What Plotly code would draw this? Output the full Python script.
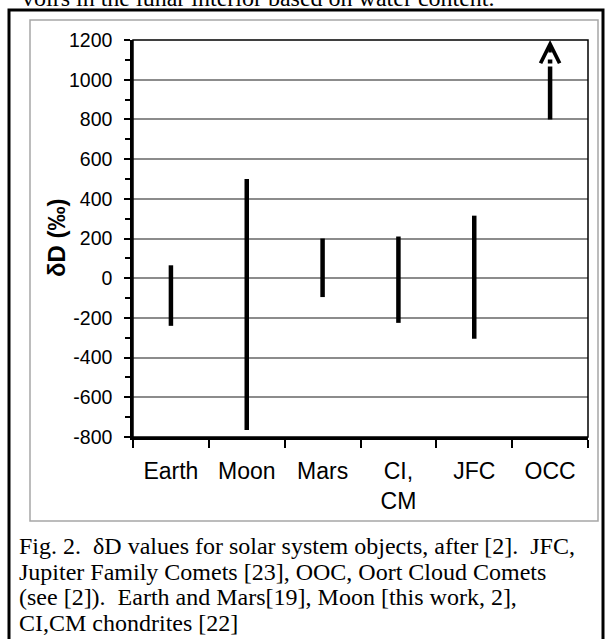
import plotly.graph_objects as go

# ---- data ----
categories = ["Earth", "Moon", "Mars", "CI,<br>CM", "JFC", "OCC"]
range_low = [-240, -765, -95, -225, -305, 800]
range_high = [65, 500, 200, 210, 315, 1200]
occ_is_lower_limit = [False, False, False, False, False, True]
y_ticks = [-800, -600, -400, -200, 0, 200, 400, 600, 800, 1000, 1200]
y_tick_labels = [str(v) for v in y_ticks]

top_text = "voirs in the lunar interior based on water content."
caption_lines = [
    "Fig. 2.&nbsp; δD values for solar system objects, after [2].&nbsp; JFC,",
    "Jupiter Family Comets [23], OOC, Oort Cloud Comets",
    "(see [2]).&nbsp; Earth and Mars[19], Moon [this work, 2],",
    "CI,CM chondrites [22]",
]

# ---- layout geometry (pixels) ----
W, H = 606, 639
L, R, T, B = 133, 18, 40, 202


def px(x):
    return (x - L) / (W - L - R)


def py(y):
    return (H - B - y) / (H - T - B)


fig = go.Figure()

# plain range bars
xs, ys = [], []
for c, lo, hi, arrow in zip(categories, range_low, range_high, occ_is_lower_limit):
    if not arrow:
        xs += [c, c, None]
        ys += [lo, hi, None]
fig.add_trace(go.Scatter(x=xs, y=ys, mode="lines",
                         line=dict(color="black", width=4.5),
                         hoverinfo="skip", showlegend=False))

# lower-limit bar(s) with dashed tail and arrowhead
for c, lo, hi, arrow in zip(categories, range_low, range_high, occ_is_lower_limit):
    if arrow:
        fig.add_trace(go.Scatter(x=[c, c], y=[lo, hi], mode="lines",
                                 line=dict(color="black", width=4.5,
                                           dash="53px,3px,4px,200px"),
                                 hoverinfo="skip", showlegend=False))
        fig.add_annotation(x=c, y=hi, ax=c, ay=hi - 70, xref="x", yref="y",
                           axref="x", ayref="y", text="", showarrow=True,
                           arrowhead=5, arrowwidth=3.4, arrowsize=1.1,
                           arrowcolor="black")

fig.update_layout(
    width=W, height=H,
    margin=dict(l=L, r=R, t=T, b=B),
    paper_bgcolor="white", plot_bgcolor="white",
    font=dict(family="Liberation Sans, Arial, sans-serif", color="black"),
    xaxis=dict(
        type="category", categoryorder="array", categoryarray=categories,
        range=[-0.5, len(categories) - 0.5],
        tickson="boundaries", ticks="outside", ticklen=8, tickwidth=2,
        tickcolor="black", showline=True, linecolor="black", linewidth=2.5,
        showgrid=False, tickfont=dict(size=23, color="black"),
        ticklabelstandoff=12,
    ),
    yaxis=dict(
        range=[-800, 1200], tickvals=y_ticks, ticktext=y_tick_labels,
        ticks="outside", ticklen=6,
        tickwidth=1.5, tickcolor="black", showline=True, linecolor="black",
        linewidth=2.5, showgrid=True, gridcolor="#8c8c8c", gridwidth=1.5,
        zeroline=False, tickfont=dict(size=19.5, color="black"),
        ticklabelstandoff=8,
        minor=dict(dtick=100, ticks="outside", ticklen=5, tickwidth=1.5,
                   tickcolor="black", showgrid=False),
    ),
    shapes=[
        # plot border (top/right)
        dict(type="rect", xref="paper", yref="paper", x0=0, x1=1, y0=0, y1=1,
             line=dict(color="black", width=1.5), layer="above"),
        # gray chart frame
        dict(type="rect", xref="paper", yref="paper", x0=px(30), x1=px(598),
             y0=py(521), y1=py(20), line=dict(color="#a6a6a6", width=1.5)),
        # outer black frame
        dict(type="rect", xref="paper", yref="paper", x0=px(9), x1=px(603),
             y0=py(660), y1=py(10), line=dict(color="black", width=3)),
    ],
)

# y-axis title
fig.add_annotation(x=px(57), y=py(238), xref="paper", yref="paper",
                   text="<b>δD (‰)</b>", textangle=-90, showarrow=False,
                   font=dict(size=24, color="black"),
                   xanchor="center", yanchor="middle")

# text cut at the top of the page
fig.add_annotation(x=px(20), y=py(-2), xref="paper", yref="paper",
                   text=top_text, showarrow=False, xanchor="left",
                   yanchor="middle",
                   font=dict(family="Liberation Serif, Times New Roman, serif",
                             size=24, color="black"))

# caption lines
for i, line in enumerate(caption_lines):
    fig.add_annotation(x=px(17), y=py(546 + i * 25.5), xref="paper",
                       yref="paper", text=line, showarrow=False,
                       xanchor="left", yanchor="middle",
                       font=dict(family="Liberation Serif, Times New Roman, serif",
                                 size=24, color="black"))

fig.write_html("out.html",
               config={"displayModeBar": False},
               post_script="document.body.style.margin='0';"
                           "document.body.style.overflow='hidden';")
